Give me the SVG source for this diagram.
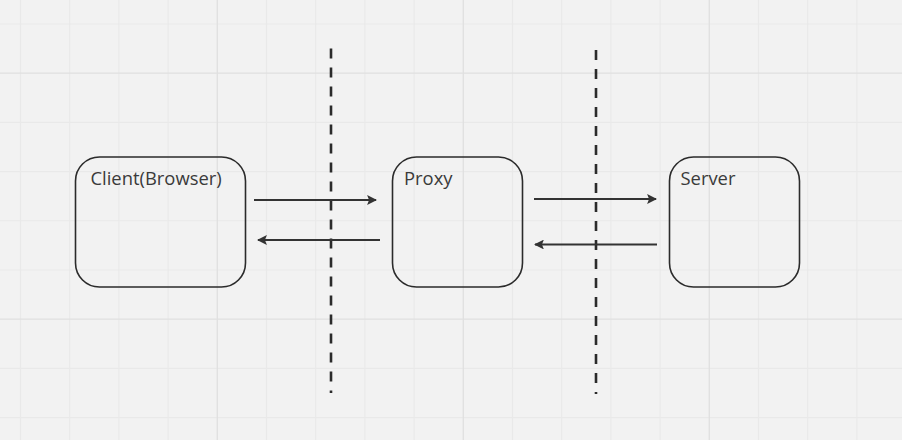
<svg xmlns="http://www.w3.org/2000/svg" width="902" height="440" viewBox="0 0 902 440">
<defs>
<style>
.minor{stroke:#e9e9e9;stroke-width:1.1;fill:none}
.major{stroke:#e0e0e0;stroke-width:1.3;fill:none}
.node rect{fill:none;stroke:#2b2b2b;stroke-width:1.6}
.node text{font-family:"Open Sans","Noto Sans",sans-serif;font-size:18.4px;fill:#3a3a3a}
.arrow{stroke:#333;stroke-width:2.2;fill:none;marker-end:url(#ah)}
.divider{stroke:#2b2b2b;stroke-width:2.6;stroke-dasharray:10 9;fill:none}
</style>
<marker id="ah" viewBox="0 0 10 10" refX="9" refY="5" markerWidth="4.5" markerHeight="4.5" orient="auto" markerUnits="strokeWidth">
<path d="M0,0 L10,5 L0,10 L2,5 Z" fill="#333"/>
</marker>
</defs>
<rect width="902" height="440" fill="#f2f2f2"/>
<g id="grid">
<path class="minor" d="M20.5,0V440M69.7,0V440M118.9,0V440M168.1,0V440M266.5,0V440M315.7,0V440M364.9,0V440M414.1,0V440M512.5,0V440M561.7,0V440M610.9,0V440M660.1,0V440M758.5,0V440M807.7,0V440M856.9,0V440M0,24H902M0,122.4H902M0,171.6H902M0,220.8H902M0,270H902M0,368.4H902M0,417.6H902"/>
<path class="major" d="M217.3,0V440M463.3,0V440M709.3,0V440M0,73.2H902M0,319.2H902"/>
</g>
<g id="dividers">
<line class="divider" x1="331" y1="48.5" x2="331" y2="393"/>
<line class="divider" x1="596" y1="50" x2="596" y2="394"/>
</g>
<g id="client" class="node">
<rect x="75.5" y="157" width="170" height="130" rx="24"/>
<text x="90.5" y="185">Client(Browser)</text>
</g>
<g id="proxy" class="node">
<rect x="392.5" y="157" width="130" height="130" rx="24"/>
<text x="404" y="185">Proxy</text>
</g>
<g id="server" class="node">
<rect x="669.5" y="157" width="130" height="130" rx="24"/>
<text x="680.5" y="185">Server</text>
</g>
<g id="connectors">
<line class="arrow" x1="254" y1="200" x2="376" y2="200"/>
<line class="arrow" x1="380" y1="240" x2="258" y2="240"/>
<line class="arrow" x1="534" y1="199" x2="656" y2="199"/>
<line class="arrow" x1="657" y1="244.5" x2="535" y2="244.5"/>
</g>
</svg>
